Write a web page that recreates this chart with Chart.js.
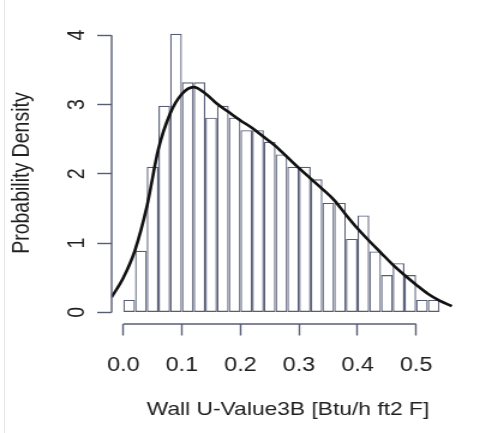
<!DOCTYPE html>
<html>
<head>
<meta charset="utf-8">
<script src="https://cdn.jsdelivr.net/npm/chart.js@4.4.1/dist/chart.umd.min.js"></script>
<style>
  html, body { margin: 0; padding: 0; background: #ffffff; overflow: hidden; }
  #wrap { position: absolute; left: 0; top: 0; width: 418px; height: 433px; transform: scaleX(1.2); transform-origin: 0 0; }
  #edge { position: absolute; left: 4px; top: 0; width: 1px; height: 433px; background: #e4e4e4; }
</style>
</head>
<body>
<div id="edge"></div>
<div id="wrap"><canvas id="c" width="418" height="433"></canvas></div>
<script>
// Histogram bins (lower edges) and densities
const binStarts = [0.00, 0.02, 0.04, 0.06, 0.08, 0.10, 0.12, 0.14, 0.16, 0.18,
                   0.20, 0.22, 0.24, 0.26, 0.28, 0.30, 0.32, 0.34, 0.36, 0.38,
                   0.40, 0.42, 0.44, 0.46, 0.48, 0.50, 0.52];
const binWidth = 0.02;
const densities = [0.18, 0.89, 2.10, 2.98, 4.02, 3.32, 3.32, 2.81, 2.98, 2.81,
                   2.63, 2.63, 2.46, 2.28, 2.10, 2.10, 1.92, 1.58, 1.58, 1.06,
                   1.40, 0.88, 0.54, 0.71, 0.54, 0.18, 0.18];
// Kernel density curve
const curveX = [-0.02, 0.00, 0.02, 0.04, 0.06, 0.08, 0.10, 0.12, 0.14, 0.16,
                0.18, 0.20, 0.22, 0.24, 0.26, 0.28, 0.30, 0.32, 0.34, 0.36,
                0.38, 0.40, 0.42, 0.44, 0.46, 0.48, 0.50, 0.52, 0.54, 0.561];
const curveY = [0.22, 0.50, 0.90, 1.52, 2.36, 2.87, 3.15, 3.25, 3.16, 3.01,
                2.89, 2.77, 2.66, 2.53, 2.40, 2.24, 2.08, 1.93, 1.78, 1.62,
                1.41, 1.21, 1.03, 0.86, 0.69, 0.54, 0.40, 0.27, 0.17, 0.09];
const xTicks = [0.0, 0.1, 0.2, 0.3, 0.4, 0.5];
const xTickLabels = ['0.0', '0.1', '0.2', '0.3', '0.4', '0.5'];
const yTicks = [0, 1, 2, 3, 4];
const yTickLabels = ['0', '1', '2', '3', '4'];
const xTitle = 'Wall U-Value3B [Btu/h ft2 F]';
const yTitle = 'Probability Density';

const axisColor = '#585d76';
const textColor = '#202020';
const fontFamily = '"Liberation Sans", Arial, Helvetica, sans-serif';

const barData = binStarts.map((s, i) => ({ x: s + binWidth / 2, y: densities[i] }));
const lineData = curveX.map((x, i) => ({ x: x, y: curveY[i] }));

const rAxes = {
  id: 'rAxes',
  afterDraw(chart) {
    const ctx = chart.ctx;
    const xs = chart.scales.x, ys = chart.scales.y;
    const area = chart.chartArea;
    ctx.save();
    ctx.strokeStyle = axisColor;
    ctx.lineWidth = 1.4;
    ctx.beginPath();
    const yb = Math.round(area.bottom);
    ctx.moveTo(xs.getPixelForValue(xTicks[0]), yb);
    ctx.lineTo(xs.getPixelForValue(xTicks[xTicks.length - 1]), yb);
    ctx.stroke();
    ctx.beginPath();
    ctx.moveTo(area.left, ys.getPixelForValue(yTicks[0]));
    ctx.lineTo(area.left, ys.getPixelForValue(yTicks[yTicks.length - 1]));
    ctx.stroke();
    ctx.restore();
  }
};

new Chart(document.getElementById('c'), {
  type: 'bar',
  data: {
    datasets: [
      {
        type: 'line',
        data: lineData,
        borderColor: '#111111',
        borderWidth: 2.6,
        pointRadius: 0,
        cubicInterpolationMode: 'monotone',
        fill: false,
        order: 0
      },
      {
        type: 'bar',
        data: barData,
        backgroundColor: 'rgba(255,255,255,0)',
        borderColor: axisColor,
        borderWidth: 1.15,
        borderSkipped: false,
        inflateAmount: 0,
        barPercentage: 1,
        categoryPercentage: 1,
        order: 1
      }
    ]
  },
  options: {
    responsive: false,
    animation: false,
    events: [],
    layout: { padding: { left: 0, right: 31, top: 21, bottom: 0 } },
    plugins: { legend: { display: false }, tooltip: { enabled: false } },
    scales: {
      x: {
        type: 'linear',
        min: -0.02,
        max: 0.5825,
        offset: false,
        afterBuildTicks: s => { s.ticks = xTicks.map(v => ({ value: v })); },
        afterFit: s => { s.height = 109.5; },
        grid: { display: true, offset: false, drawOnChartArea: false, drawTicks: true, tickLength: 12, tickColor: axisColor, tickWidth: 1.4 },
        border: { display: false },
        ticks: {
          padding: 18,
          maxRotation: 0,
          autoSkip: false,
          color: textColor,
          font: { family: fontFamily, size: 19.5 },
          callback: (v, i) => xTickLabels[i]
        },
        title: {
          display: true, text: xTitle, color: textColor,
          font: { family: fontFamily, size: 19 },
          padding: { top: 0, bottom: 12 }
        }
      },
      y: {
        type: 'linear',
        min: -0.16,
        max: 4.18,
        afterBuildTicks: s => { s.ticks = yTicks.map(v => ({ value: v })); },
        afterFit: s => { s.width = 93; },
        grid: { display: true, offset: false, drawOnChartArea: false, drawTicks: true, tickLength: 12, tickColor: axisColor, tickWidth: 1.4 },
        border: { display: false },
        ticks: {
          padding: 11,
          minRotation: 90,
          maxRotation: 90,
          crossAlign: 'center',
          autoSkip: false,
          color: textColor,
          font: { family: fontFamily, size: 19.5 },
          callback: (v, i) => yTickLabels[i]
        },
        title: {
          display: true, text: yTitle, color: textColor,
          font: { family: fontFamily, size: 19.5 },
          padding: { top: 6.5, bottom: 0 }
        }
      }
    }
  },
  plugins: [rAxes]
});
</script>
</body>
</html>
